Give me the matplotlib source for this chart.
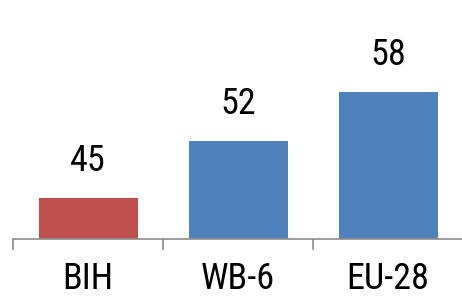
import matplotlib.pyplot as plt
import numpy as np

categories = ['BIH', 'WB-6', 'EU-28']
values = [45, 52, 58]
colors = ['#C0504D', '#4F81BD', '#4F81BD']

font = ['Roboto Condensed', 'Liberation Sans', 'DejaVu Sans']

fig = plt.figure(figsize=(4.62, 2.97), dpi=100)
ax = fig.add_axes([13 / 462, 58 / 297, 450 / 462, 239 / 297])

x = np.arange(len(categories))
ax.bar(x, values, width=0.66, color=colors)

for xi, v in zip(x, values):
    ax.annotate(str(v), (xi, v), xytext=(0, 19.5), textcoords='offset points',
                ha='center', va='baseline', fontsize=26, family=font)

ax.set_xlim(-0.5, 2.5)
ax.set_ylim(40, 69.3)

for side in ['top', 'right', 'left']:
    ax.spines[side].set_visible(False)
ax.spines['bottom'].set_color('#8c8c8c')
ax.spines['bottom'].set_linewidth(1.2)

ax.set_yticks([])
ax.set_xticks(x)
ax.set_xticklabels(categories, fontsize=26, family=font)
ax.tick_params(axis='x', which='major', length=0, pad=16)
ax.set_xticks([-0.5, 0.5, 1.5, 2.5], minor=True)
ax.tick_params(axis='x', which='minor', length=8, color='#8c8c8c', width=1.2)

fig.savefig('out.png', dpi=100)
